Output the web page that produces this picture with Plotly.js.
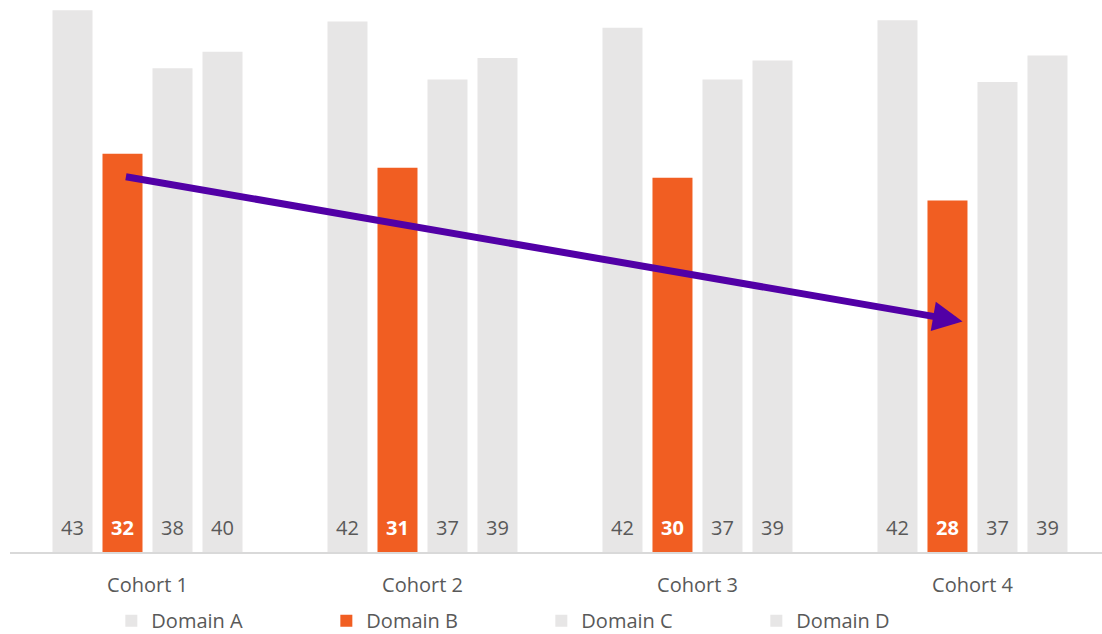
<!DOCTYPE html>
<html>
<head>
<meta charset="utf-8">
<script src="https://cdn.plot.ly/plotly-3.0.1.min.js"></script>
<style>html,body{margin:0;padding:0;background:#fff;}#chart{width:1102px;height:634px;}</style>
</head>
<body>
<div id="chart"></div>
<script>
// ---- data ----
const cohorts = ["Cohort 1", "Cohort 2", "Cohort 3", "Cohort 4"];
const domainNames = ["Domain A", "Domain B", "Domain C", "Domain D"];
const domainA = [43.0, 42.1, 41.6, 42.2];
const domainB = [31.6, 30.5, 29.7, 27.9];
const domainC = [38.4, 37.5, 37.5, 37.3];
const domainD = [39.7, 39.2, 39.0, 39.4];
const labelsA = ["43", "42", "42", "42"];
const labelsB = ["32", "31", "30", "28"];
const labelsC = ["38", "37", "37", "37"];
const labelsD = ["40", "39", "39", "39"];
// trend arrow (category index, value)
const arrowStart = [-0.084, 29.8];
const arrowEnd = [2.964, 18.3];

// ---- style ----
const GRAY = "#E7E6E6";
const ORANGE = "#F15E22";
const TXT = "#595959";
const FONT = "Open Sans, DejaVu Sans, sans-serif";

const series = [domainA, domainB, domainC, domainD];
const labels = [labelsA, labelsB, labelsC, labelsD];
const colors = [GRAY, ORANGE, GRAY, GRAY];

const BARGAP = 0.2727, GROUPGAP = 0.2;
const XRANGE = [-0.5, 3.471];
const PLOT_W = 1092;

const traces = series.map((vals, i) => ({
  type: "bar",
  name: domainNames[i],
  x: cohorts,
  y: vals,
  marker: {color: colors[i]},
  hoverinfo: "skip"
}));

// bar value labels near the base of each bar
const catPx = PLOT_W / (XRANGE[1] - XRANGE[0]);
const slotPx = catPx * (1 - BARGAP) / series.length;
const annotations = [];
labels.forEach((labs, i) => {
  labs.forEach((t, j) => {
    annotations.push({
      x: cohorts[j], y: 0, xref: "x", yref: "y",
      xshift: (i - (series.length - 1) / 2) * slotPx,
      yshift: 25, yanchor: "middle", xanchor: "center",
      text: t, showarrow: false,
      font: {family: FONT, size: 20, color: i === 1 ? "#FFFFFF" : TXT, weight: i === 1 ? "bold" : "normal"}
    });
  });
});
annotations.push({
  x: arrowEnd[0], y: arrowEnd[1], ax: arrowStart[0], ay: arrowStart[1],
  xref: "x", yref: "y", axref: "x", ayref: "y",
  showarrow: true, arrowhead: 2, arrowsize: 0.85, arrowwidth: 7,
  arrowcolor: "#5200A6", standoff: 0, text: ""
});

const layout = {
  width: 1102, height: 634,
  margin: {l: 10, r: 0, t: 0, b: 82, autoexpand: false},
  paper_bgcolor: "#FFFFFF", plot_bgcolor: "#FFFFFF",
  barmode: "group", bargap: BARGAP, bargroupgap: GROUPGAP,
  font: {family: FONT, color: TXT, size: 20},
  xaxis: {
    type: "category", range: XRANGE, showgrid: false, zeroline: false,
    showline: true, linecolor: "#D9D9D9", linewidth: 2, ticks: "",
    ticklabelstandoff: 14, automargin: false,
    tickfont: {family: FONT, size: 20, color: TXT}
  },
  yaxis: {range: [0, 43.81], visible: false, showgrid: false, zeroline: false, automargin: false},
  showlegend: true,
  legend: {
    orientation: "h", x: 0.0928, xanchor: "left", y: -0.089, yanchor: "top",
    entrywidth: 170, entrywidthmode: "pixels",
    font: {family: FONT, size: 20, color: TXT}, traceorder: "normal"
  },
  annotations: annotations
};

Plotly.newPlot("chart", traces, layout, {displayModeBar: false, staticPlot: true});
</script>
</body>
</html>
